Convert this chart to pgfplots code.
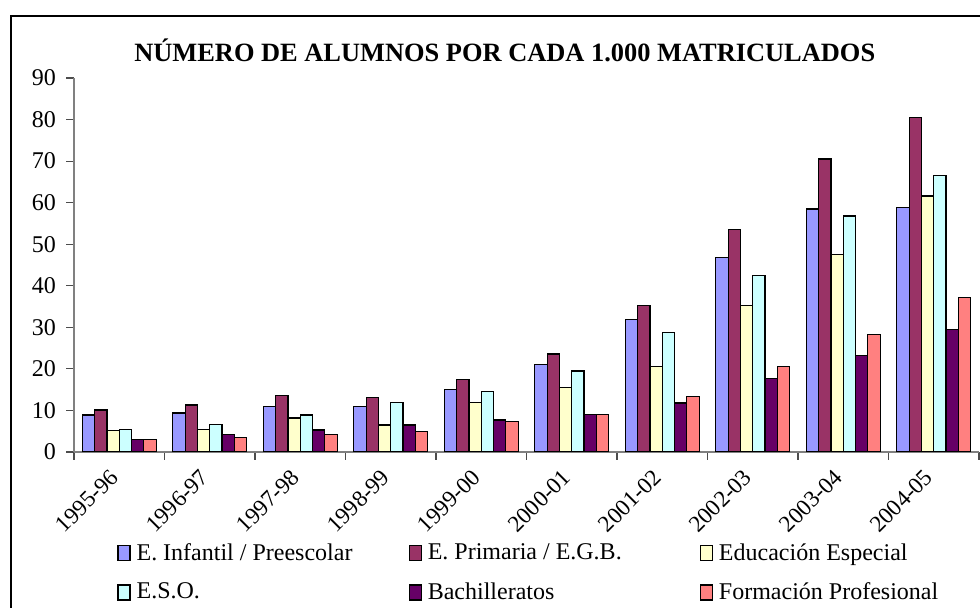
\documentclass[border=0pt]{standalone}
\usepackage{fontspec}
\setmainfont{Liberation Serif}
\usepackage{pgfplots}
\usepackage{pgfplotstable}
\pgfplotsset{compat=1.18}

\definecolor{cInf}{HTML}{9999FF}
\definecolor{cPri}{HTML}{993366}
\definecolor{cEsp}{HTML}{FFFFCC}
\definecolor{cEso}{HTML}{CCFFFF}
\definecolor{cBac}{HTML}{660066}
\definecolor{cFp}{HTML}{FF8080}

% x: 0 = 1995-96 ... 9 = 2004-05
\pgfplotstableread{
x  inf   pri   esp   eso   bac   fp
0  8.9   10.1  5.1   5.4   3.1   3.1
1  9.4   11.3  5.4   6.6   4.3   3.5
2  10.9  13.6  8.2   8.9   5.3   4.2
3  10.9  13.2  6.5   11.9  6.5   5.0
4  15.1  17.4  12.0  14.6  7.7   7.3
5  21.0  23.6  15.5  19.5  9.0   9.0
6  31.8  35.3  20.6  28.8  11.8  13.3
7  46.9  53.6  35.3  42.4  17.6  20.6
8  58.5  70.5  47.6  56.8  23.3  28.2
9  58.9  80.5  61.6  66.5  29.4  37.2
}\datatable

\begin{document}
\begin{tikzpicture}
\useasboundingbox (0,0) rectangle (490pt,304pt);
\draw[line width=0.8pt] (5.5pt,0) -- (5.5pt,296pt) -- (490pt,296pt);
\begin{axis}[
    at={(37pt,78pt)}, anchor=south west,
    scale only axis,
    width=452.5pt, height=187pt,
    xmin=-0.5, xmax=9.5,
    ymin=0, ymax=90,
    ytick={0,10,...,90},
    xtick={0,...,9},
    xticklabels={1995-96,1996-97,1997-98,1998-99,1999-00,2000-01,2001-02,2002-03,2003-04,2004-05},
    minor xtick={-0.5,0.5,...,9.5},
    axis x line*=bottom, axis y line*=left,
    axis line style={black!50, line width=0.6pt, -},
    tick align=outside,
    major tick length=4pt, minor tick length=4pt,
    major x tick style={draw=none},
    minor x tick style={black!70, line width=0.6pt},
    ytick style={black!70, line width=0.6pt},
    tick label style={font=\fontsize{12}{14}\selectfont},
    /pgf/number format/assume math mode=true,
    xticklabel style={font=\fontsize{11.6}{14}\selectfont, rotate=45, anchor=east, xshift=-3pt, yshift=-3pt},
    yticklabel style={xshift=-1.5pt},
    title={\textbf{NÚMERO DE ALUMNOS POR CADA 1.000 MATRICULADOS}},
    title style={font=\fontsize{13.2}{15}\selectfont, at={(0.476,1.011)}, anchor=base, inner sep=0pt},
    every axis plot/.append style={ybar, bar width=6.15pt, draw=black, line width=0.6pt},
    legend columns=3,
    legend cell align=left,
    legend image code/.code={\draw[#1, draw=black, line width=0.6pt] (0pt,-3.75pt) rectangle (6pt,3.75pt);},
    legend style={at={(0.0475,-0.243)}, anchor=north west, draw=none, inner sep=0pt,
        font=\fontsize{12}{14}\selectfont,
        nodes={inner sep=0pt},
        row sep=9.7pt,
        /tikz/every odd column/.append style={column sep=3pt}},
]
\addplot[fill=cInf, bar shift=-15.375pt] table[x=x, y=inf] {\datatable};
\addplot[fill=cPri, bar shift=-9.225pt] table[x=x, y=pri] {\datatable};
\addplot[fill=cEsp, bar shift=-3.075pt] table[x=x, y=esp] {\datatable};
\addplot[fill=cEso, bar shift=3.075pt] table[x=x, y=eso] {\datatable};
\addplot[fill=cBac, bar shift=9.225pt] table[x=x, y=bac] {\datatable};
\addplot[fill=cFp, bar shift=15.375pt] table[x=x, y=fp] {\datatable};
\addlegendentry{\makebox[136pt][l]{E. Infantil / Preescolar}}
\addlegendentry{\makebox[136pt][l]{E. Primaria / E.G.B.}}
\addlegendentry{\makebox[136pt][l]{Educación Especial}}
\addlegendentry{\makebox[136pt][l]{E.S.O.}}
\addlegendentry{\makebox[136pt][l]{Bachilleratos}}
\addlegendentry{\makebox[136pt][l]{Formación Profesional}}
\end{axis}
\end{tikzpicture}
\end{document}
